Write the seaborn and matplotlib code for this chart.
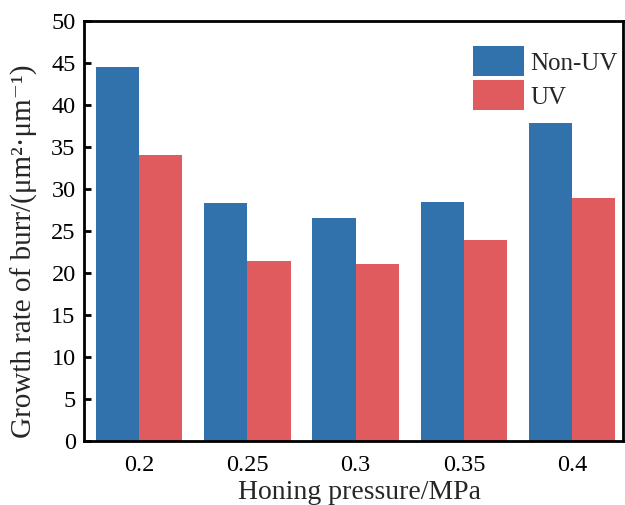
import matplotlib
matplotlib.use("Agg")
import matplotlib.pyplot as plt
import seaborn as sns
import pandas as pd

pressures = ["0.2", "0.25", "0.3", "0.35", "0.4"]
non_uv = [44.6, 28.3, 26.6, 28.5, 37.9]
uv = [34.1, 21.4, 21.1, 23.9, 29.0]
series = ["Non-UV", "UV"]
colors = ["#3172AC", "#E05B5E"]
y_ticks = [0, 5, 10, 15, 20, 25, 30, 35, 40, 45, 50]

df = pd.DataFrame({
    "pressure": pressures * 2,
    "rate": non_uv + uv,
    "group": [series[0]] * len(pressures) + [series[1]] * len(pressures),
})

sns.set_theme(style="white")
plt.rcParams["font.family"] = ["Liberation Serif", "DejaVu Serif"]

fig = plt.figure(figsize=(6.25, 5.05), dpi=100)
ax = fig.add_axes([0.1344, 0.1267, 0.8624, 0.8313])

sns.barplot(data=df, x="pressure", y="rate", hue="group", order=pressures,
            hue_order=series, palette=colors, width=0.8, saturation=1,
            linewidth=0, ax=ax)

ax.set_xlim(-0.51, 4.47)
ax.set_ylim(0, 50)
ax.set_yticks(y_ticks)
ax.set_yticklabels([str(v) for v in y_ticks])

for s in ax.spines.values():
    s.set_visible(True)
    s.set_color("black")
    s.set_linewidth(2.0)

ax.tick_params(axis="both", direction="in", length=5, width=2,
               labelsize=17.5, colors="black")
ax.tick_params(axis="x", bottom=True, top=False, pad=10)
ax.tick_params(axis="y", left=True, right=False, pad=6)

ax.set_xlabel("Honing pressure/MPa", fontsize=20)
ax.xaxis.set_label_coords(0.512, -0.093)
ax.set_ylabel("Growth rate of burr/(μm²·μm⁻¹)", fontsize=21)
ax.yaxis.set_label_coords(-0.085, 0.452)

handles, labels = ax.get_legend_handles_labels()
ax.legend(handles, labels, loc="upper left", bbox_to_anchor=(0.7217, 0.940),
          frameon=False, fontsize=18, handlelength=2.04, handleheight=1.47,
          labelspacing=0.16, handletextpad=0.25, borderaxespad=0,
          borderpad=0)

fig.savefig("out.png", dpi=100)
